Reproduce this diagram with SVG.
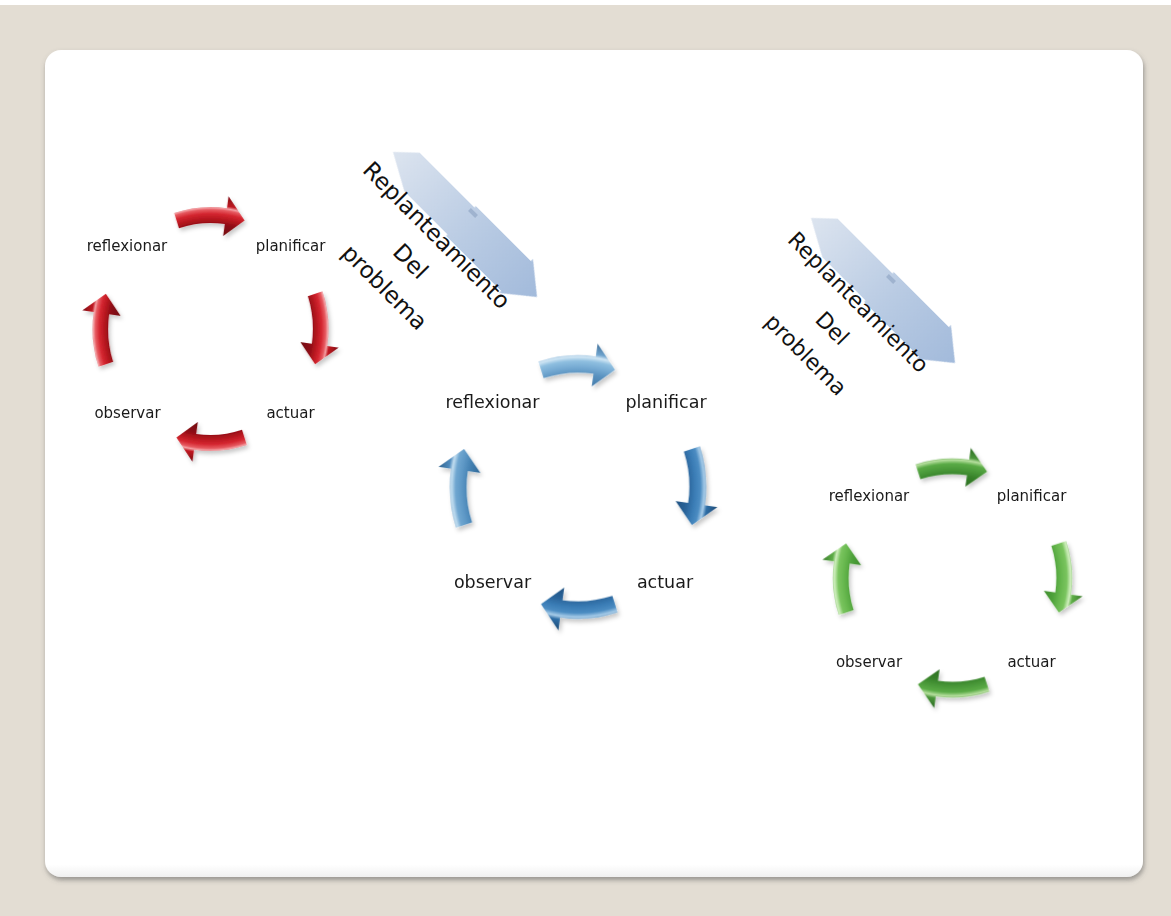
<svg xmlns="http://www.w3.org/2000/svg" width="1171" height="916" viewBox="0 0 1171 916">
<style>
.lbl{font-family:"DejaVu Sans",Verdana,sans-serif;font-size:15px;fill:#1a1a1a;text-anchor:middle}
.lblb{font-size:17.5px}
.rp{font-family:"DejaVu Sans",Verdana,sans-serif;font-size:23px;fill:#111;text-anchor:middle}
.rp2{font-size:22px}
.big{fill:url(#bigGrad)}
</style>
<defs>
<filter id="cardShadow" x="-5%" y="-5%" width="110%" height="112%">
<feDropShadow dx="1" dy="3" stdDeviation="2.5" flood-color="#555" flood-opacity="0.55"/>
</filter>
<filter id="arrShadow" x="-20%" y="-20%" width="140%" height="140%">
<feDropShadow dx="2" dy="3" stdDeviation="2" flood-color="#000" flood-opacity="0.22"/>
</filter>
<filter id="soft" x="-10%" y="-10%" width="120%" height="120%">
<feGaussianBlur stdDeviation="0.7"/>
</filter>
<path id="ca" d="M -37.70 -116.03 A 122 122 0 0 1 16.98 -120.81 L 18.65 -132.70 L 35.23 -108.42 L 13.08 -93.08 L 14.75 -104.97 A 106 106 0 0 0 -32.76 -100.81 Z"/>
<polygon id="bigArrow" class="big" points="0,0 -29.7,-24 -29.7,-21 -107.5,-21 -107.5,-19 -185,-19 -204.4,-0.7 -168.6,19 -107.5,19 -107.5,21 -29.7,21 -29.7,24"/>
<radialGradient id="gRed" gradientUnits="userSpaceOnUse" cx="0" cy="0" r="134">
<stop offset="0.69" stop-color="#6e0a0f"/><stop offset="0.78" stop-color="#8c0d15"/><stop offset="0.82" stop-color="#b5161f"/><stop offset="0.86" stop-color="#d42630"/><stop offset="0.89" stop-color="#e65a61"/><stop offset="0.905" stop-color="#f4a0a4"/><stop offset="0.925" stop-color="#c01922"/><stop offset="1" stop-color="#7e0b11"/>
</radialGradient>
<radialGradient id="gBlueL" gradientUnits="userSpaceOnUse" cx="0" cy="0" r="134">
<stop offset="0.69" stop-color="#3f77a6"/><stop offset="0.78" stop-color="#5a92c0"/><stop offset="0.83" stop-color="#78acd4"/><stop offset="0.87" stop-color="#8fbfe0"/><stop offset="0.9" stop-color="#d2e7f5"/><stop offset="0.925" stop-color="#6fa3cd"/><stop offset="1" stop-color="#41719b"/>
</radialGradient>
<radialGradient id="gBlueM" gradientUnits="userSpaceOnUse" cx="0" cy="0" r="134">
<stop offset="0.69" stop-color="#2e6594"/><stop offset="0.78" stop-color="#4582b3"/><stop offset="0.83" stop-color="#5e98c6"/><stop offset="0.87" stop-color="#6fa6d0"/><stop offset="0.9" stop-color="#c3def0"/><stop offset="0.925" stop-color="#4f8bbd"/><stop offset="1" stop-color="#2f6390"/>
</radialGradient>
<radialGradient id="gBlueD" gradientUnits="userSpaceOnUse" cx="0" cy="0" r="134">
<stop offset="0.69" stop-color="#1f4f7d"/><stop offset="0.78" stop-color="#2a649a"/><stop offset="0.83" stop-color="#3a7cb5"/><stop offset="0.87" stop-color="#4b8cc2"/><stop offset="0.9" stop-color="#a9cde9"/><stop offset="0.925" stop-color="#2f6ea6"/><stop offset="1" stop-color="#1d4a75"/>
</radialGradient>
<radialGradient id="gGreen" gradientUnits="userSpaceOnUse" cx="0" cy="0" r="134">
<stop offset="0.69" stop-color="#2a6b1f"/><stop offset="0.78" stop-color="#37822a"/><stop offset="0.83" stop-color="#4b9a3a"/><stop offset="0.87" stop-color="#5aab46"/><stop offset="0.9" stop-color="#b8e0a0"/><stop offset="0.925" stop-color="#4a953a"/><stop offset="1" stop-color="#2c6a22"/>
</radialGradient>
<radialGradient id="gGreenL" gradientUnits="userSpaceOnUse" cx="0" cy="0" r="134">
<stop offset="0.69" stop-color="#3a8a2a"/><stop offset="0.78" stop-color="#4fa23b"/><stop offset="0.83" stop-color="#68b84f"/><stop offset="0.87" stop-color="#79c45e"/><stop offset="0.9" stop-color="#d0efbe"/><stop offset="0.925" stop-color="#5eae47"/><stop offset="1" stop-color="#3b7d2c"/>
</radialGradient>
<linearGradient id="bigGrad" gradientUnits="userSpaceOnUse" x1="-204" y1="0" x2="0" y2="0">
<stop offset="0" stop-color="#dce4ef"/><stop offset="0.55" stop-color="#b9cbe3"/><stop offset="1" stop-color="#a2badb"/>
</linearGradient>
<linearGradient id="cardGrad" x1="0" y1="0" x2="0" y2="1">
<stop offset="0" stop-color="#ffffff"/><stop offset="0.985" stop-color="#ffffff"/><stop offset="1" stop-color="#f0f0f0"/>
</linearGradient>
</defs>

<rect x="0" y="0" width="1171" height="916" fill="#ffffff"/>
<rect x="0" y="5" width="1171" height="911" fill="#e3ddd3"/>
<rect id="card" x="45" y="50" width="1098" height="827" rx="16" fill="url(#cardGrad)" filter="url(#cardShadow)"/>

<!-- Replanteamiento blocks -->
<g id="replanteamiento-1">
<g transform="translate(537,297) rotate(45)" filter="url(#soft)"><use href="#bigArrow"/></g>
<rect x="-5" y="-2" width="10" height="4" fill="#9fb3cf" transform="translate(473,213) rotate(45)"/>
<g transform="translate(410.5,261.5) rotate(45)">
<text class="rp" x="0" y="-29.2">Replanteamiento</text>
<text class="rp" x="0" y="7.6">Del</text>
<text class="rp" x="0" y="44.4">problema</text>
</g>
</g>
<g id="replanteamiento-2">
<g transform="translate(955,363) rotate(45)" filter="url(#soft)"><use href="#bigArrow"/></g>
<rect x="-5" y="-2" width="10" height="4" fill="#9fb3cf" transform="translate(891,279) rotate(45)"/>
<g transform="translate(832,328.5) rotate(45)">
<text class="rp rp2" x="0" y="-29.6">Replanteamiento</text>
<text class="rp rp2" x="0" y="7.3">Del</text>
<text class="rp rp2" x="0" y="44.6">problema</text>
</g>
</g>

<!-- connectors: cycle arrows -->
<g id="connectors">
<g id="red-arrows" transform="translate(210.5,329) scale(0.965,1)" filter="url(#arrShadow)">
<use href="#ca" fill="url(#gRed)"/>
<use href="#ca" fill="url(#gRed)" transform="rotate(90)"/>
<use href="#ca" fill="url(#gRed)" transform="rotate(180)"/>
<use href="#ca" fill="url(#gRed)" transform="rotate(270)"/>
</g>
<g id="blue-arrows" transform="translate(578,487) scale(1.05,1.08)" filter="url(#arrShadow)">
<use href="#ca" fill="url(#gBlueL)"/>
<use href="#ca" fill="url(#gBlueD)" transform="rotate(90)"/>
<use href="#ca" fill="url(#gBlueD)" transform="rotate(180)"/>
<use href="#ca" fill="url(#gBlueM)" transform="rotate(270)"/>
</g>
<g id="green-arrows" transform="translate(952.5,578) scale(0.98)" filter="url(#arrShadow)">
<use href="#ca" fill="url(#gGreen)"/>
<use href="#ca" fill="url(#gGreenL)" transform="rotate(90)"/>
<use href="#ca" fill="url(#gGreen)" transform="rotate(180)"/>
<use href="#ca" fill="url(#gGreenL)" transform="rotate(270)"/>
</g>
</g>

<!-- red cycle nodes -->
<g id="red-reflexionar"><text class="lbl" x="127" y="251">reflexionar</text></g>
<g id="red-planificar"><text class="lbl" x="290.5" y="251">planificar</text></g>
<g id="red-actuar"><text class="lbl" x="290.5" y="418">actuar</text></g>
<g id="red-observar"><text class="lbl" x="127.5" y="418">observar</text></g>

<!-- blue cycle nodes -->
<g id="blue-reflexionar"><text class="lbl lblb" x="492.5" y="408">reflexionar</text></g>
<g id="blue-planificar"><text class="lbl lblb" x="666" y="408">planificar</text></g>
<g id="blue-actuar"><text class="lbl lblb" x="665" y="588">actuar</text></g>
<g id="blue-observar"><text class="lbl lblb" x="492.5" y="588">observar</text></g>

<!-- green cycle nodes -->
<g id="green-reflexionar"><text class="lbl" x="869" y="501">reflexionar</text></g>
<g id="green-planificar"><text class="lbl" x="1031.5" y="501">planificar</text></g>
<g id="green-actuar"><text class="lbl" x="1031.5" y="667">actuar</text></g>
<g id="green-observar"><text class="lbl" x="869" y="667">observar</text></g>
</svg>
